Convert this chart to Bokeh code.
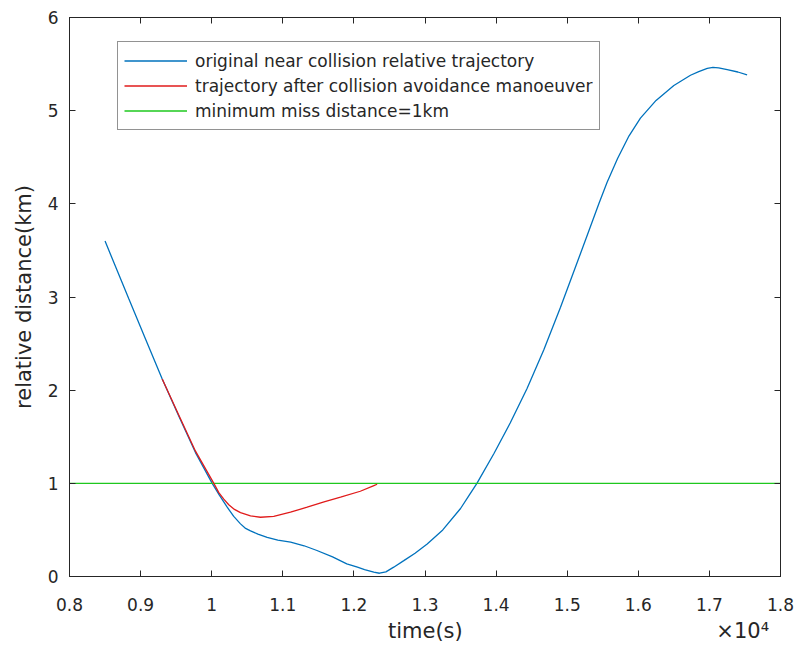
from bokeh.plotting import figure
from bokeh.models import LinearAxis, FixedTicker, Legend, LegendItem, Range1d
from bokeh.embed import file_html
from bokeh.resources import INLINE

# time in seconds, relative distance in km
orig_t = [8500, 8834, 9069, 9304, 9538, 9772, 10007, 10110, 10218, 10310,
          10405, 10470, 10546, 10650, 10780, 10930, 11110, 11300, 11480, 11700,
          11900, 12050, 12150, 12280, 12360, 12450, 12560, 12702, 12860, 13031,
          13250, 13500, 13620, 13730, 13970, 14200, 14437, 14670, 14906, 15140,
          15300, 15445, 15560, 15710, 15870, 16030, 16250, 16500, 16734, 16850,
          16970, 17050, 17130, 17250, 17400, 17530]
orig_d = [3.60, 2.98, 2.55, 2.12, 1.72, 1.33, 1.0, 0.87, 0.744, 0.645,
          0.565, 0.52, 0.49, 0.455, 0.42, 0.39, 0.368, 0.33, 0.279, 0.21,
          0.136, 0.10, 0.075, 0.046, 0.035, 0.05, 0.10, 0.17, 0.25, 0.35,
          0.50, 0.73, 0.87, 1.0, 1.32, 1.65, 2.02, 2.43, 2.89, 3.37,
          3.70, 4.0, 4.23, 4.49, 4.73, 4.92, 5.11, 5.27, 5.38, 5.42,
          5.455, 5.465, 5.46, 5.44, 5.415, 5.385]

avoid_t = [9304, 9538, 9772, 10030, 10100, 10170, 10240, 10320, 10405, 10546,
           10686, 10873, 11108, 11343, 11580, 11812, 12090, 12281, 12327]
avoid_d = [2.12, 1.73, 1.345, 1.0, 0.90, 0.83, 0.77, 0.72, 0.685, 0.65,
           0.636, 0.645, 0.69, 0.744, 0.80, 0.851, 0.915, 0.976, 0.99]

miss_t = [8000, 18000]
miss_d = [1.0, 1.0]

x_ticks = [8000, 9000, 10000, 11000, 12000, 13000, 14000, 15000, 16000, 17000, 18000]
x_tick_labels = ["0.8", "0.9", "1", "1.1", "1.2", "1.3", "1.4", "1.5", "1.6", "1.7", "1.8"]
y_ticks = [0, 1, 2, 3, 4, 5, 6]

x_title = "time(s)"
x_exponent = "×10⁴"
y_title = "relative distance(km)"

legend_labels = ["original near collision relative trajectory",
                 "trajectory after collision avoidance manoeuver",
                 "minimum miss distance=1km"]

FONT = "DejaVu Sans"
INK = "#262626"
NBSP = "\u00a0"

p = figure(width=797, height=648, output_backend="svg", toolbar_location=None,
           x_range=Range1d(8000, 18000), y_range=Range1d(0, 6),
           min_border_left=69, min_border_right=17, min_border_top=17,
           min_border_bottom=72, background_fill_color="white",
           border_fill_color="white")
p.grid.visible = False
p.outline_line_color = INK

def style_axis(ax, ticks, show_labels):
    ax.ticker = FixedTicker(ticks=ticks)
    ax.major_tick_in = 6
    ax.major_tick_out = 0
    ax.minor_tick_line_color = None
    ax.axis_line_color = INK
    ax.major_tick_line_color = INK
    ax.major_label_text_font = FONT
    if show_labels:
        ax.major_label_text_color = INK
        ax.major_label_text_font_size = "17px"
    else:
        # tick marks only: the box sides of the frame
        ax.major_label_text_color = None
        ax.major_label_text_font_size = "1px"
        ax.major_label_standoff = 0

xa = p.xaxis[0]
style_axis(xa, x_ticks, True)
xa.major_label_overrides = {t: s for t, s in zip(x_ticks, x_tick_labels)}
xa.major_label_standoff = 21
# the axis title stays centred; the exponent sits at the right end of the same row
xa.axis_label = NBSP * 46 + x_title + NBSP * 38 + x_exponent
xa.axis_label_text_font = FONT
xa.axis_label_text_font_size = "21px"
xa.axis_label_text_font_style = "normal"
xa.axis_label_text_color = INK
xa.axis_label_standoff = 5

ya = p.yaxis[0]
style_axis(ya, y_ticks, True)
ya.major_label_standoff = 11
ya.axis_label = y_title
ya.axis_label_text_font = FONT
ya.axis_label_text_font_size = "21px"
ya.axis_label_text_font_style = "normal"
ya.axis_label_text_color = INK
ya.axis_label_standoff = 9

top = LinearAxis()
style_axis(top, x_ticks, False)
p.add_layout(top, "above")
right = LinearAxis()
style_axis(right, y_ticks, False)
p.add_layout(right, "right")

r_orig = p.line(orig_t, orig_d, line_color="#0072BD", line_width=1.3)
r_miss = p.line(miss_t, miss_d, line_color="#1ec81e", line_width=1.3)
r_avoid = p.line(avoid_t, avoid_d, line_color="#e01b1b", line_width=1.3)

legend = Legend(items=[LegendItem(label=legend_labels[0], renderers=[r_orig]),
                       LegendItem(label=legend_labels[1], renderers=[r_avoid]),
                       LegendItem(label=legend_labels[2], renderers=[r_miss])],
                location=(48, 446), orientation="vertical",
                label_text_font=FONT, label_text_font_size="17px",
                label_text_color=INK, glyph_width=63, glyph_height=25,
                label_height=25, label_standoff=8, padding=6, spacing=0,
                margin=0, border_line_color=INK, border_line_width=1,
                background_fill_color="white", background_fill_alpha=1.0)
p.add_layout(legend, "center")

open("out.html", "w").write(file_html(p, INLINE))
